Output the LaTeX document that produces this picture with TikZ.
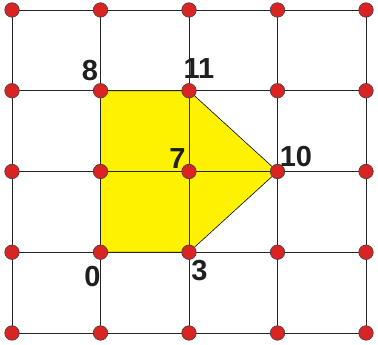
\documentclass[tikz,border=0pt]{standalone}
\usepackage{fontspec}
\setmainfont{Liberation Sans}
\usetikzlibrary{positioning}
\definecolor{dotred}{RGB}{218,36,36}

\begin{document}
\begin{tikzpicture}[
      x=88.5pt, y=80.75pt,
      gridline/.style={line width=0.9pt, black!85},
      region/.style={fill=yellow, draw=black, line width=0.6pt},
      dot/.style={circle, draw=black!75, line width=0.6pt, fill=dotred, inner sep=0pt, minimum size=14.5pt},
      num/.style={inner sep=0pt, font=\fontsize{29}{29}\selectfont\bfseries, text=black!88}
    ]
    \useasboundingbox ([xshift=-12pt,yshift=-12pt]0,0) rectangle ([xshift=12pt,yshift=10pt]4,4);

    % lattice points
    \foreach \i in {0,...,4}
      \foreach \j in {0,...,4}
        \coordinate (p-\i-\j) at (\i,\j);

    % the yellow region 0-3-10-11-8
    \draw[region] (p-1-3) -- (p-2-3) -- (p-3-2) -- (p-2-1) -- (p-1-1) -- cycle;

    % grid lines
    \foreach \k in {0,...,4} {
      \draw[gridline] (p-\k-0) -- (p-\k-4);
      \draw[gridline] (p-0-\k) -- (p-4-\k);
    }

    % red dots on every lattice point
    \foreach \i in {0,...,4}
      \foreach \j in {0,...,4}
        \node[dot] (d-\i-\j) at (p-\i-\j) {};

    % vertex numbers
    \node[num] (n0)  at ([shift={(-8pt,-24.5pt)}]d-1-1)   {0};
    \node[num] (n3)  at ([shift={(10.5pt,-18.5pt)}]d-2-1) {3};
    \node[num] (n7)  at ([shift={(-11.5pt,13pt)}]d-2-2)   {7};
    \node[num] (n10) at ([shift={(18.5pt,14.5pt)}]d-3-2)  {10};
    \node[num] (n8)  at ([shift={(-10.5pt,20.5pt)}]d-1-3) {8};
    \node[num] (n11) at ([shift={(10pt,22.5pt)}]d-2-3)    {11};
  \end{tikzpicture}
\end{document}
